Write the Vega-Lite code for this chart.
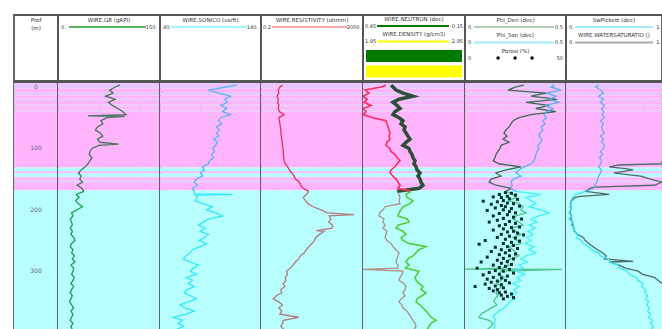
{
  "$schema": "https://vega.github.io/schema/vega-lite/v6.json",
  "padding": {"left": 13, "top": 14, "right": 0, "bottom": 0},
  "background": "white",
  "spacing": 0,
  "resolve": {"scale": {"color": "independent"}},
  "config": {
    "view": {"stroke": "#555555", "strokeWidth": 1.8},
    "axis": {"labels": false, "ticks": false, "domain": false, "grid": true, "gridColor": "#3f6f6f", "gridOpacity": 0.3, "gridWidth": 1, "zindex": 1},
    "text": {"font": "DejaVu Sans"}
  },
  "datasets": {
    "zones": [
      {"top": -6.5, "bottom": 3, "zone": "Shaly"},
      {"top": 3, "bottom": 8, "zone": "Shale"},
      {"top": 8, "bottom": 14, "zone": "Shaly"},
      {"top": 14, "bottom": 19, "zone": "Shale"},
      {"top": 19, "bottom": 23, "zone": "Shaly"},
      {"top": 23, "bottom": 29, "zone": "Shale"},
      {"top": 29, "bottom": 32, "zone": "Shaly"},
      {"top": 32, "bottom": 37, "zone": "Shale"},
      {"top": 37, "bottom": 40, "zone": "Shaly"},
      {"top": 40, "bottom": 131, "zone": "Shale"},
      {"top": 131, "bottom": 137, "zone": "Sand"},
      {"top": 137, "bottom": 141, "zone": "Shaly"},
      {"top": 141, "bottom": 147, "zone": "Sand"},
      {"top": 147, "bottom": 152, "zone": "Shale"},
      {"top": 152, "bottom": 156, "zone": "Shaly"},
      {"top": 156, "bottom": 168, "zone": "Shale"},
      {"top": 168, "bottom": 399, "zone": "Sand"}
    ],
    "depthLabels": [{"d": 0}, {"d": 100}, {"d": 200}, {"d": 300}, {"d": 400}],
    "hdr": [
      {"track": "D", "slot": 0, "title": "Prof"},
      {"track": "D", "slot": 0.5, "title": "(m)"},
      {"track": "GR", "slot": 0, "title": "WIRE.GR (gAPI)", "lo": "0.", "hi": "150."},
      {"track": "DT", "slot": 0, "title": "WIRE.SONICO (us/ft)", "lo": "40.", "hi": "140."},
      {"track": "RES", "slot": 0, "title": "WIRE.RESISTIVITY (ohmm)", "lo": "0.2", "hi": "2000."},
      {"track": "ND", "slot": 0, "title": "WIRE.NEUTRON (dec)", "lo": "0.45", "hi": "-0.15"},
      {"track": "ND", "slot": 1, "title": "WIRE.DENSITY (g/cm3)", "lo": "1.95", "hi": "2.95"},
      {"track": "ND", "slot": 2, "box": "Separation"},
      {"track": "ND", "slot": 3, "box": "Crossover"},
      {"track": "POR", "slot": 0, "title": "Phi_Den (dec)", "lo": "0.", "hi": "0.5"},
      {"track": "POR", "slot": 1, "title": "Phi_Son (dec)", "lo": "0.", "hi": "0.5"},
      {"track": "POR", "slot": 2, "title": "Porosi (%)", "lo": "0", "hi": "50", "sym": "dots"},
      {"track": "SW", "slot": 0, "title": "SwPickett (dec)", "lo": "0.", "hi": "1."},
      {"track": "SW", "slot": 1, "title": "WIRE.WATERSATURATIO ()", "lo": "0.", "hi": "1."}
    ],
    "logs": [
      {"d": -3, "gr": 91, "dt": 116, "res": 1.4, "nphi": 0.315, "rhob": 2.225, "phid": 0.292, "phis": 0.441, "swp": 0.34},
      {"d": 0, "gr": 84, "dt": 105, "res": 1.1, "nphi": 0.344, "rhob": 2.244, "phid": 0.252, "phis": 0.426, "swp": 0.31},
      {"d": 5, "gr": 76, "dt": 88, "res": 0.95, "nphi": 0.438, "rhob": 2.274, "phid": 0.213, "phis": 0.475, "swp": 0.36},
      {"d": 10, "gr": 81, "dt": 98, "res": 1.0, "nphi": 0.415, "rhob": 2.342, "phid": 0.401, "phis": 0.401, "swp": 0.39},
      {"d": 15, "gr": 70, "dt": 110, "res": 0.85, "nphi": 0.45, "rhob": 2.44, "phid": 0.327, "phis": 0.45, "swp": 0.34},
      {"d": 20, "gr": 84, "dt": 104, "res": 0.95, "nphi": 0.426, "rhob": 2.303, "phid": 0.455, "phis": 0.416, "swp": 0.39},
      {"d": 25, "gr": 74, "dt": 107, "res": 0.9, "nphi": 0.444, "rhob": 2.244, "phid": 0.302, "phis": 0.465, "swp": 0.36},
      {"d": 30, "gr": 80, "dt": 100, "res": 1.0, "nphi": 0.403, "rhob": 2.283, "phid": 0.416, "phis": 0.396, "swp": 0.40},
      {"d": 35, "gr": 88, "dt": 106, "res": 0.95, "nphi": 0.45, "rhob": 2.313, "phid": 0.351, "phis": 0.436, "swp": 0.37},
      {"d": 40, "gr": 95, "dt": 102, "res": 1.05, "nphi": 0.432, "rhob": 2.264, "phid": 0.45, "phis": 0.406, "swp": 0.39},
      {"d": 45, "gr": 100, "dt": 110, "res": 1.6, "nphi": 0.45, "rhob": 2.244, "phid": 0.327, "phis": 0.391, "swp": 0.38},
      {"d": 47, "gr": 44},
      {"d": 48, "gr": 98},
      {"d": 50, "gr": 72, "dt": 100, "res": 1.0, "nphi": 0.391, "rhob": 2.303, "phid": 0.267, "phis": 0.401, "swp": 0.40},
      {"d": 55, "gr": 63, "dt": 98, "res": 1.05, "nphi": 0.315, "rhob": 2.342, "phid": 0.238, "phis": 0.386, "swp": 0.36},
      {"d": 60, "gr": 66, "dt": 101, "res": 1.1, "nphi": 0.309, "rhob": 2.323, "phid": 0.228, "phis": 0.396, "swp": 0.39},
      {"d": 65, "gr": 58, "dt": 96, "res": 1.15, "nphi": 0.303, "rhob": 2.362, "phid": 0.218, "phis": 0.376, "swp": 0.37},
      {"d": 70, "gr": 55, "dt": 99, "res": 1.2, "nphi": 0.297, "rhob": 2.352, "phid": 0.203, "phis": 0.386, "swp": 0.38},
      {"d": 75, "gr": 62, "dt": 96, "res": 1.2, "nphi": 0.291, "rhob": 2.372, "phid": 0.193, "phis": 0.371, "swp": 0.40},
      {"d": 80, "gr": 66, "dt": 98, "res": 1.25, "nphi": 0.297, "rhob": 2.391, "phid": 0.208, "phis": 0.366, "swp": 0.36},
      {"d": 85, "gr": 58, "dt": 93, "res": 1.3, "nphi": 0.291, "rhob": 2.411, "phid": 0.188, "phis": 0.381, "swp": 0.39},
      {"d": 90, "gr": 62, "dt": 97, "res": 1.35, "nphi": 0.309, "rhob": 2.372, "phid": 0.218, "phis": 0.376, "swp": 0.37},
      {"d": 93, "gr": 89},
      {"d": 95, "gr": 60, "dt": 95, "res": 1.4, "nphi": 0.315, "rhob": 2.342, "phid": 0.178, "phis": 0.361, "swp": 0.40},
      {"d": 100, "gr": 50, "dt": 92, "res": 1.45, "nphi": 0.291, "rhob": 2.401, "phid": 0.173, "phis": 0.366, "swp": 0.39},
      {"d": 105, "gr": 47, "dt": 94, "res": 1.5, "nphi": 0.285, "rhob": 2.411, "phid": 0.163, "phis": 0.356, "swp": 0.36},
      {"d": 110, "gr": 46, "dt": 91, "res": 1.5, "nphi": 0.262, "rhob": 2.431, "phid": 0.153, "phis": 0.351, "swp": 0.38},
      {"d": 115, "gr": 50, "dt": 93, "res": 1.55, "nphi": 0.25, "rhob": 2.44, "phid": 0.149, "phis": 0.347, "swp": 0.35},
      {"d": 120, "gr": 47, "dt": 89, "res": 1.6, "nphi": 0.232, "rhob": 2.46, "phid": 0.139, "phis": 0.342, "swp": 0.37, "sw": 1.0},
      {"d": 125, "gr": 44, "dt": 88, "res": 1.8, "nphi": 0.25, "rhob": 2.45, "phid": 0.168, "phis": 0.327, "swp": 0.36, "sw": 1.0},
      {"d": 127, "sw": 0.55},
      {"d": 130, "gr": 40, "dt": 82, "res": 2.2, "nphi": 0.262, "rhob": 2.47, "phid": 0.277, "phis": 0.292, "swp": 0.34, "sw": 0.45},
      {"d": 133, "sw": 0.62},
      {"d": 135, "gr": 34, "dt": 84, "res": 2.6, "nphi": 0.285, "rhob": 2.479, "phid": 0.203, "phis": 0.267, "swp": 0.37, "sw": 0.7},
      {"d": 138, "sw": 0.58},
      {"d": 140, "gr": 30, "dt": 80, "res": 3.2, "nphi": 0.291, "rhob": 2.509, "phid": 0.153, "phis": 0.252, "swp": 0.36, "sw": 0.5},
      {"d": 143, "sw": 0.66},
      {"d": 145, "gr": 34, "dt": 82, "res": 4.0, "nphi": 0.274, "rhob": 2.489, "phid": 0.178, "phis": 0.277, "swp": 0.34, "sw": 0.78},
      {"d": 150, "gr": 32, "dt": 76, "res": 4.5, "nphi": 0.256, "rhob": 2.509, "phid": 0.129, "phis": 0.238, "swp": 0.33, "sw": 0.88},
      {"d": 155, "gr": 36, "dt": 74, "res": 6.5, "nphi": 0.244, "rhob": 2.519, "phid": 0.119, "phis": 0.228, "swp": 0.32, "sw": 1.0},
      {"d": 160, "gr": 28, "dt": 77, "res": 7.0, "nphi": 0.232, "rhob": 2.538, "phid": 0.153, "phis": 0.233, "swp": 0.30, "sw": 0.92},
      {"d": 163, "sw": 0.3},
      {"d": 165, "gr": 35, "dt": 72, "res": 9.0, "nphi": 0.244, "rhob": 2.499, "phid": 0.228, "phis": 0.228, "swp": 0.29, "sw": 0.25},
      {"d": 170, "gr": 38, "dt": 74, "res": 15, "nphi": 0.168, "rhob": 2.283, "phid": 0.203, "phis": 0.252, "swp": 0.20, "sw": 0.2},
      {"d": 174, "dt": 74},
      {"d": 175, "gr": 27, "dt": 112, "res": 12, "nphi": 0.197, "rhob": 2.303, "phid": 0.238, "phis": 0.376, "swp": 0.10, "sw": 0.45},
      {"d": 176, "dt": 75},
      {"d": 178, "sw": 0.15},
      {"d": 180, "gr": 31, "dt": 77, "res": 9, "nphi": 0.191, "rhob": 2.313, "phid": 0.252, "phis": 0.302, "swp": 0.07, "sw": 0.09},
      {"d": 185, "gr": 26, "dt": 75, "res": 11, "nphi": 0.156, "rhob": 2.303, "phid": 0.218, "phis": 0.327, "swp": 0.05, "sw": 0.06},
      {"d": 190, "gr": 30, "dt": 82, "res": 14, "nphi": 0.174, "rhob": 2.313, "phid": 0.267, "phis": 0.351, "swp": 0.06, "sw": 0.05},
      {"d": 195, "gr": 36, "dt": 92, "res": 22, "nphi": 0.215, "rhob": 2.166, "phid": 0.287, "phis": 0.317, "swp": 0.04, "sw": 0.05},
      {"d": 200, "gr": 28, "dt": 86, "res": 45, "nphi": 0.226, "rhob": 2.146, "phid": 0.277, "phis": 0.376, "swp": 0.05, "sw": 0.05},
      {"d": 205, "gr": 20, "dt": 95, "res": 80, "nphi": 0.238, "rhob": 2.117, "phid": 0.302, "phis": 0.416, "swp": 0.03, "sw": 0.04},
      {"d": 208, "res": 900},
      {"d": 210, "gr": 22, "dt": 102, "res": 95, "nphi": 0.244, "rhob": 2.107, "phid": 0.252, "phis": 0.366, "swp": 0.06, "sw": 0.06},
      {"d": 215, "gr": 18, "dt": 88, "res": 110, "nphi": 0.191, "rhob": 2.156, "phid": 0.238, "phis": 0.327, "swp": 0.03, "sw": 0.05},
      {"d": 220, "gr": 20, "dt": 83, "res": 90, "nphi": 0.179, "rhob": 2.146, "phid": 0.267, "phis": 0.356, "swp": 0.07, "sw": 0.07},
      {"d": 225, "gr": 21, "dt": 78, "res": 130, "nphi": 0.244, "rhob": 2.166, "phid": 0.287, "phis": 0.317, "swp": 0.05, "sw": 0.07},
      {"d": 230, "gr": 18, "dt": 85, "res": 120, "nphi": 0.256, "rhob": 2.146, "phid": 0.228, "phis": 0.347, "swp": 0.09, "sw": 0.08},
      {"d": 234, "res": 30},
      {"d": 235, "gr": 21, "dt": 80, "res": 60, "nphi": 0.215, "rhob": 2.185, "phid": 0.252, "phis": 0.312, "swp": 0.08, "sw": 0.09},
      {"d": 240, "gr": 19, "dt": 88, "res": 40, "nphi": 0.197, "rhob": 2.175, "phid": 0.277, "phis": 0.337, "swp": 0.13, "sw": 0.12},
      {"d": 245, "gr": 23, "dt": 84, "res": 28, "nphi": 0.226, "rhob": 2.166, "phid": 0.238, "phis": 0.307, "swp": 0.11, "sw": 0.18},
      {"d": 250, "gr": 25, "dt": 79, "res": 25, "nphi": 0.215, "rhob": 2.185, "phid": 0.257, "phis": 0.327, "swp": 0.16, "sw": 0.2},
      {"d": 255, "gr": 20, "dt": 86, "res": 20, "nphi": 0.179, "rhob": 2.225, "phid": 0.277, "phis": 0.297, "swp": 0.18, "sw": 0.24},
      {"d": 260, "gr": 18, "dt": 80, "res": 15, "nphi": 0.079, "rhob": 2.244, "phid": 0.218, "phis": 0.342, "swp": 0.24, "sw": 0.28},
      {"d": 265, "gr": 22, "dt": 72, "res": 12, "nphi": 0.121, "rhob": 2.274, "phid": 0.238, "phis": 0.317, "swp": 0.26, "sw": 0.33},
      {"d": 270, "gr": 20, "dt": 70, "res": 10, "nphi": 0.138, "rhob": 2.303, "phid": 0.252, "phis": 0.351, "swp": 0.34, "sw": 0.38},
      {"d": 275, "gr": 24, "dt": 66, "res": 7, "nphi": 0.156, "rhob": 2.293, "phid": 0.267, "phis": 0.302, "swp": 0.36, "sw": 0.42},
      {"d": 280, "gr": 21, "dt": 63, "res": 6, "nphi": 0.185, "rhob": 2.283, "phid": 0.228, "phis": 0.277, "swp": 0.44, "sw": 0.4},
      {"d": 284, "sw": 0.7},
      {"d": 285, "gr": 25, "dt": 70, "res": 4.5, "nphi": 0.197, "rhob": 2.274, "phid": 0.203, "phis": 0.307, "swp": 0.46, "sw": 0.45},
      {"d": 290, "gr": 19, "dt": 78, "res": 3.6, "nphi": 0.179, "rhob": 2.293, "phid": 0.218, "phis": 0.267, "swp": 0.54, "sw": 0.55},
      {"d": 295, "gr": 23, "dt": 73, "res": 2.8, "nphi": 0.2, "rhob": 2.29, "phid": 0.188, "phis": 0.287, "swp": 0.56, "sw": 0.62},
      {"d": 296.5, "phid": 0.0},
      {"d": 297, "rhob": 1.95, "phid": 0.48},
      {"d": 300, "gr": 22, "dt": 70, "res": 2.0, "nphi": 0.121, "rhob": 2.342, "phid": 0.178, "phis": 0.252, "swp": 0.64, "sw": 0.75},
      {"d": 305, "gr": 20, "dt": 76, "res": 2.2, "nphi": 0.132, "rhob": 2.332, "phid": 0.168, "phis": 0.297, "swp": 0.66, "sw": 0.8},
      {"d": 310, "gr": 24, "dt": 66, "res": 1.8, "nphi": 0.144, "rhob": 2.313, "phid": 0.193, "phis": 0.257, "swp": 0.73, "sw": 0.92},
      {"d": 315, "gr": 22, "dt": 72, "res": 1.9, "nphi": 0.138, "rhob": 2.303, "phid": 0.178, "phis": 0.277, "swp": 0.75, "sw": 0.96},
      {"d": 320, "gr": 19, "dt": 68, "res": 1.5, "nphi": 0.121, "rhob": 2.352, "phid": 0.158, "phis": 0.238, "swp": 0.80, "sw": 1.0},
      {"d": 325, "gr": 23, "dt": 74, "res": 1.7, "nphi": 0.097, "rhob": 2.372, "phid": 0.178, "phis": 0.267, "swp": 0.79},
      {"d": 330, "gr": 20, "dt": 67, "res": 1.2, "nphi": 0.109, "rhob": 2.362, "phid": 0.168, "phis": 0.243, "swp": 0.83},
      {"d": 335, "gr": 18, "dt": 64, "res": 1.3, "nphi": 0.079, "rhob": 2.342, "phid": 0.153, "phis": 0.257, "swp": 0.82},
      {"d": 340, "gr": 21, "dt": 70, "res": 0.8, "nphi": 0.103, "rhob": 2.362, "phid": 0.163, "phis": 0.228, "swp": 0.85},
      {"d": 345, "gr": 19, "dt": 76, "res": 0.6, "nphi": 0.132, "rhob": 2.323, "phid": 0.149, "phis": 0.248, "swp": 0.83},
      {"d": 350, "gr": 17, "dt": 68, "res": 1.0, "nphi": 0.138, "rhob": 2.303, "phid": 0.144, "phis": 0.218, "swp": 0.86},
      {"d": 355, "gr": 20, "dt": 60, "res": 1.4, "nphi": 0.115, "rhob": 2.332, "phid": 0.158, "phis": 0.208, "swp": 0.84},
      {"d": 360, "gr": 23, "dt": 65, "res": 1.0, "nphi": 0.097, "rhob": 2.342, "phid": 0.129, "phis": 0.193, "swp": 0.87},
      {"d": 365, "gr": 19, "dt": 74, "res": 1.3, "nphi": 0.079, "rhob": 2.381, "phid": 0.104, "phis": 0.168, "swp": 0.85},
      {"d": 370, "gr": 22, "dt": 66, "res": 1.1, "nphi": 0.062, "rhob": 2.401, "phid": 0.079, "phis": 0.149, "swp": 0.88},
      {"d": 375, "gr": 20, "dt": 53, "res": 6.0, "nphi": 0.05, "rhob": 2.421, "phid": 0.069, "phis": 0.139, "swp": 0.86},
      {"d": 380, "gr": 18, "dt": 62, "res": 1.5, "nphi": 0.021, "rhob": 2.44, "phid": 0.119, "phis": 0.153, "swp": 0.90},
      {"d": 385, "gr": 22, "dt": 58, "res": 1.4, "nphi": 0.05, "rhob": 2.46, "phid": 0.139, "phis": 0.144, "swp": 0.88},
      {"d": 390, "gr": 19, "dt": 63, "res": 1.2, "nphi": 0.062, "rhob": 2.47, "phid": 0.129, "phis": 0.149, "swp": 0.91},
      {"d": 395, "gr": 21, "dt": 56, "res": 1.6, "nphi": 0.074, "rhob": 2.45, "phid": 0.109, "phis": 0.139, "swp": 0.89},
      {"d": 400, "gr": 20, "dt": 60, "res": 1.3, "nphi": 0.068, "rhob": 2.46, "phid": 0.119, "phis": 0.144, "swp": 0.90}
    ],
    "por": [
      {"d": 172, "p": 20}, {"d": 173, "p": 23}, {"d": 175, "p": 17}, {"d": 176, "p": 25}, {"d": 178, "p": 21},
      {"d": 179, "p": 14}, {"d": 180, "p": 18}, {"d": 182, "p": 22}, {"d": 183, "p": 26}, {"d": 185, "p": 19},
      {"d": 186, "p": 9}, {"d": 187, "p": 16}, {"d": 189, "p": 21}, {"d": 190, "p": 24}, {"d": 191, "p": 13},
      {"d": 193, "p": 18}, {"d": 194, "p": 27}, {"d": 195, "p": 20}, {"d": 197, "p": 15}, {"d": 198, "p": 23},
      {"d": 200, "p": 19}, {"d": 201, "p": 11}, {"d": 203, "p": 22}, {"d": 205, "p": 25}, {"d": 206, "p": 17},
      {"d": 208, "p": 21}, {"d": 210, "p": 14}, {"d": 212, "p": 24}, {"d": 214, "p": 19}, {"d": 215, "p": 28},
      {"d": 217, "p": 16}, {"d": 219, "p": 22}, {"d": 220, "p": 12}, {"d": 222, "p": 25}, {"d": 224, "p": 20},
      {"d": 226, "p": 17}, {"d": 228, "p": 27}, {"d": 229, "p": 23}, {"d": 231, "p": 19}, {"d": 233, "p": 14},
      {"d": 235, "p": 24}, {"d": 236, "p": 21}, {"d": 238, "p": 26}, {"d": 240, "p": 18}, {"d": 241, "p": 29},
      {"d": 243, "p": 22}, {"d": 245, "p": 16}, {"d": 246, "p": 25}, {"d": 248, "p": 20}, {"d": 250, "p": 10},
      {"d": 251, "p": 27}, {"d": 253, "p": 23}, {"d": 255, "p": 19}, {"d": 256, "p": 7}, {"d": 258, "p": 24},
      {"d": 260, "p": 21}, {"d": 261, "p": 15}, {"d": 263, "p": 26}, {"d": 265, "p": 18}, {"d": 266, "p": 22},
      {"d": 268, "p": 13}, {"d": 270, "p": 20}, {"d": 272, "p": 25}, {"d": 273, "p": 17}, {"d": 275, "p": 22},
      {"d": 277, "p": 11}, {"d": 279, "p": 19}, {"d": 280, "p": 24}, {"d": 282, "p": 16}, {"d": 284, "p": 21},
      {"d": 285, "p": 8}, {"d": 287, "p": 18}, {"d": 289, "p": 23}, {"d": 290, "p": 14}, {"d": 292, "p": 20},
      {"d": 294, "p": 17}, {"d": 295, "p": 6}, {"d": 297, "p": 22}, {"d": 299, "p": 15}, {"d": 300, "p": 19},
      {"d": 302, "p": 12}, {"d": 303, "p": 24}, {"d": 305, "p": 17}, {"d": 306, "p": 9}, {"d": 308, "p": 21},
      {"d": 310, "p": 14}, {"d": 311, "p": 18}, {"d": 313, "p": 11}, {"d": 315, "p": 20}, {"d": 316, "p": 16},
      {"d": 318, "p": 13}, {"d": 319, "p": 22}, {"d": 321, "p": 10}, {"d": 322, "p": 18}, {"d": 324, "p": 15},
      {"d": 325, "p": 5}, {"d": 327, "p": 19}, {"d": 328, "p": 12}, {"d": 330, "p": 16}, {"d": 332, "p": 14},
      {"d": 334, "p": 20}, {"d": 335, "p": 17}, {"d": 337, "p": 23}, {"d": 339, "p": 18}, {"d": 341, "p": 21},
      {"d": 343, "p": 24}, {"d": 345, "p": 19}
    ]
  },
  "vconcat": [
    {
      "spacing": 0, "bounds": "flush",
      "resolve": {"scale": {"color": "independent"}},
      "hconcat": [
        {
          "width": 44, "height": 66,
          "data": {"name": "hdr"},
          "transform": [{"filter": "datum.track === 'D'"}],
          "mark": {"type": "text", "fontSize": 5.5, "yOffset": 5, "color": "#333333"},
          "encoding": {
            "y": {"field": "slot", "type": "quantitative", "scale": {"domain": [0, 4.26], "reverse": true, "nice": false, "zero": false}, "axis": null},
            "x": {"datum": 0.5, "type": "quantitative", "scale": {"domain": [0, 1], "nice": false, "zero": false}, "axis": null},
            "text": {"field": "title"}
          }
        },
        {
          "width": 102, "height": 66,
          "data": {"name": "hdr"},
          "transform": [{"filter": "datum.track === 'GR'"}],
          "encoding": {"y": {"field": "slot", "type": "quantitative", "scale": {"domain": [0, 4.26], "reverse": true, "nice": false, "zero": false}, "axis": null}},
          "layer": [
            {"mark": {"type": "text", "fontSize": 5.5, "yOffset": 5, "color": "#333333"},
             "encoding": {"x": {"datum": 0.5, "type": "quantitative", "scale": {"domain": [0, 1], "nice": false, "zero": false}, "axis": null}, "text": {"field": "title"}}},
            {"mark": {"type": "rule", "strokeWidth": 2, "yOffset": 12, "xOffset": 11, "x2Offset": -14},
             "encoding": {"x": {"datum": 0, "type": "quantitative"}, "x2": {"datum": 1}, "color": {"field": "title", "type": "nominal", "scale": {"domain": ["WIRE.GR (gAPI)"], "range": ["#5cb85c"]}, "legend": null}}},
            {"mark": {"type": "text", "fontSize": 5, "yOffset": 12, "xOffset": 3, "align": "left", "color": "#333333"},
             "encoding": {"x": {"datum": 0, "type": "quantitative"}, "text": {"field": "lo"}}},
            {"mark": {"type": "text", "fontSize": 5, "yOffset": 12, "xOffset": -3, "align": "right", "color": "#333333"},
             "encoding": {"x": {"datum": 1, "type": "quantitative"}, "text": {"field": "hi"}}}
          ]
        },
        {
          "width": 101, "height": 66,
          "data": {"name": "hdr"},
          "transform": [{"filter": "datum.track === 'DT'"}],
          "encoding": {"y": {"field": "slot", "type": "quantitative", "scale": {"domain": [0, 4.26], "reverse": true, "nice": false, "zero": false}, "axis": null}},
          "layer": [
            {"mark": {"type": "text", "fontSize": 5.5, "yOffset": 5, "color": "#333333"},
             "encoding": {"x": {"datum": 0.5, "type": "quantitative", "scale": {"domain": [0, 1], "nice": false, "zero": false}, "axis": null}, "text": {"field": "title"}}},
            {"mark": {"type": "rule", "strokeWidth": 2, "yOffset": 12, "xOffset": 11, "x2Offset": -14},
             "encoding": {"x": {"datum": 0, "type": "quantitative"}, "x2": {"datum": 1}, "color": {"field": "title", "type": "nominal", "scale": {"domain": ["WIRE.SONICO (us/ft)"], "range": ["#a6f2ff"]}, "legend": null}}},
            {"mark": {"type": "text", "fontSize": 5, "yOffset": 12, "xOffset": 3, "align": "left", "color": "#333333"},
             "encoding": {"x": {"datum": 0, "type": "quantitative"}, "text": {"field": "lo"}}},
            {"mark": {"type": "text", "fontSize": 5, "yOffset": 12, "xOffset": -3, "align": "right", "color": "#333333"},
             "encoding": {"x": {"datum": 1, "type": "quantitative"}, "text": {"field": "hi"}}}
          ]
        },
        {
          "width": 102, "height": 66,
          "data": {"name": "hdr"},
          "transform": [{"filter": "datum.track === 'RES'"}],
          "encoding": {"y": {"field": "slot", "type": "quantitative", "scale": {"domain": [0, 4.26], "reverse": true, "nice": false, "zero": false}, "axis": null}},
          "layer": [
            {"mark": {"type": "text", "fontSize": 5.5, "yOffset": 5, "color": "#333333"},
             "encoding": {"x": {"datum": 0.5, "type": "quantitative", "scale": {"domain": [0, 1], "nice": false, "zero": false}, "axis": null}, "text": {"field": "title"}}},
            {"mark": {"type": "rule", "strokeWidth": 2, "yOffset": 12, "xOffset": 11, "x2Offset": -16},
             "encoding": {"x": {"datum": 0, "type": "quantitative"}, "x2": {"datum": 1}, "color": {"field": "title", "type": "nominal", "scale": {"domain": ["WIRE.RESISTIVITY (ohmm)"], "range": ["#ffaaaa"]}, "legend": null}}},
            {"mark": {"type": "text", "fontSize": 5, "yOffset": 12, "xOffset": 2, "align": "left", "color": "#333333"},
             "encoding": {"x": {"datum": 0, "type": "quantitative"}, "text": {"field": "lo"}}},
            {"mark": {"type": "text", "fontSize": 5, "yOffset": 12, "xOffset": -2, "align": "right", "color": "#333333"},
             "encoding": {"x": {"datum": 1, "type": "quantitative"}, "text": {"field": "hi"}}}
          ]
        },
        {
          "width": 102, "height": 66,
          "data": {"name": "hdr"},
          "transform": [{"filter": "datum.track === 'ND'"}],
          "encoding": {"y": {"field": "slot", "type": "quantitative", "scale": {"domain": [0, 4.26], "reverse": true, "nice": false, "zero": false}, "axis": null}},
          "layer": [
            {"transform": [{"filter": "datum.box != null"}],
             "mark": {"type": "rect", "yOffset": 4, "y2Offset": 16, "xOffset": 3, "x2Offset": -3},
             "encoding": {"x": {"datum": 0, "type": "quantitative", "scale": {"domain": [0, 1], "nice": false, "zero": false}, "axis": null}, "x2": {"datum": 1}, "y2": {"field": "slot"}, "color": {"field": "box", "type": "nominal", "scale": {"domain": ["Separation", "Crossover"], "range": ["#007a00", "#ffff00"]}, "legend": null}}},
            {"transform": [{"filter": "datum.title != null"}],
             "mark": {"type": "text", "fontSize": 5.5, "yOffset": 4, "color": "#333333"},
             "encoding": {"x": {"datum": 0.5, "type": "quantitative"}, "text": {"field": "title"}}},
            {"transform": [{"filter": "datum.title != null"}],
             "mark": {"type": "rule", "strokeWidth": 2, "yOffset": 11, "xOffset": 14, "x2Offset": -16},
             "encoding": {"x": {"datum": 0, "type": "quantitative"}, "x2": {"datum": 1}, "color": {"field": "title", "type": "nominal", "scale": {"domain": ["WIRE.NEUTRON (dec)", "WIRE.DENSITY (g/cm3)"], "range": ["#bfe0bf", "#ffb0b0"]}, "legend": null}}},
            {"transform": [{"filter": "datum.lo != null"}],
             "mark": {"type": "text", "fontSize": 5, "yOffset": 11, "xOffset": 2, "align": "left", "color": "#333333"},
             "encoding": {"x": {"datum": 0, "type": "quantitative"}, "text": {"field": "lo"}}},
            {"transform": [{"filter": "datum.hi != null"}],
             "mark": {"type": "text", "fontSize": 5, "yOffset": 11, "xOffset": -2, "align": "right", "color": "#333333"},
             "encoding": {"x": {"datum": 1, "type": "quantitative"}, "text": {"field": "hi"}}}
          ]
        },
        {
          "width": 101, "height": 66,
          "data": {"name": "hdr"},
          "transform": [{"filter": "datum.track === 'POR'"}],
          "encoding": {"y": {"field": "slot", "type": "quantitative", "scale": {"domain": [0, 4.26], "reverse": true, "nice": false, "zero": false}, "axis": null}},
          "layer": [
            {"mark": {"type": "text", "fontSize": 5.5, "yOffset": 5, "color": "#333333"},
             "encoding": {"x": {"datum": 0.5, "type": "quantitative", "scale": {"domain": [0, 1], "nice": false, "zero": false}, "axis": null}, "text": {"field": "title"}}},
            {"transform": [{"filter": "datum.sym == null"}],
             "mark": {"type": "rule", "strokeWidth": 2, "yOffset": 12, "xOffset": 9, "x2Offset": -12},
             "encoding": {"x": {"datum": 0, "type": "quantitative"}, "x2": {"datum": 1}, "color": {"field": "title", "type": "nominal", "scale": {"domain": ["Phi_Den (dec)", "Phi_Son (dec)"], "range": ["#b0d0b0", "#a0eefa"]}, "legend": null}}},
            {"transform": [{"filter": "datum.sym === 'dots'"}],
             "mark": {"type": "rule", "strokeWidth": 3.5, "strokeCap": "round", "strokeDash": [0.1, 16.9], "color": "#111111", "yOffset": 12},
             "encoding": {"x": {"datum": 0.327, "type": "quantitative"}, "x2": {"datum": 0.68}}},
            {"mark": {"type": "text", "fontSize": 5, "yOffset": 12, "xOffset": 3, "align": "left", "color": "#333333"},
             "encoding": {"x": {"datum": 0, "type": "quantitative"}, "text": {"field": "lo"}}},
            {"mark": {"type": "text", "fontSize": 5, "yOffset": 12, "xOffset": -3, "align": "right", "color": "#333333"},
             "encoding": {"x": {"datum": 1, "type": "quantitative"}, "text": {"field": "hi"}}}
          ]
        },
        {
          "width": 96, "height": 66,
          "data": {"name": "hdr"},
          "transform": [{"filter": "datum.track === 'SW'"}],
          "encoding": {"y": {"field": "slot", "type": "quantitative", "scale": {"domain": [0, 4.26], "reverse": true, "nice": false, "zero": false}, "axis": null}},
          "layer": [
            {"mark": {"type": "text", "fontSize": 5.5, "yOffset": 5, "color": "#333333"},
             "encoding": {"x": {"datum": 0.5, "type": "quantitative", "scale": {"domain": [0, 1], "nice": false, "zero": false}, "axis": null}, "text": {"field": "title"}}},
            {"mark": {"type": "rule", "strokeWidth": 2, "yOffset": 12, "xOffset": 9, "x2Offset": -9},
             "encoding": {"x": {"datum": 0, "type": "quantitative"}, "x2": {"datum": 1}, "color": {"field": "title", "type": "nominal", "scale": {"domain": ["SwPickett (dec)", "WIRE.WATERSATURATIO ()"], "range": ["#a0eefa", "#aaaaaa"]}, "legend": null}}},
            {"mark": {"type": "text", "fontSize": 5, "yOffset": 12, "xOffset": 3, "align": "left", "color": "#333333"},
             "encoding": {"x": {"datum": 0, "type": "quantitative"}, "text": {"field": "lo"}}},
            {"mark": {"type": "text", "fontSize": 5, "yOffset": 12, "xOffset": -1, "align": "right", "color": "#333333"},
             "encoding": {"x": {"datum": 1, "type": "quantitative"}, "text": {"field": "hi"}}}
          ]
        }
      ]
    },
    {
      "spacing": 0, "bounds": "flush",
      "resolve": {"scale": {"color": "independent"}},
      "hconcat": [
        {
          "width": 44, "height": 249,
          "layer": [
            {"data": {"name": "zones"}, "mark": {"type": "rect"},
             "encoding": {
               "y": {"field": "top", "type": "quantitative", "title": null,
                     "scale": {"domain": [-6.5, 399], "reverse": true, "nice": false, "zero": false},
                     "axis": {"values": [0,25,50,75,100,125,150,175,200,225,250,275,300,325,350,375,400],
                              "gridOpacity": {"condition": {"test": "datum.value % 100 === 0", "value": 0.45}, "value": 0.2}}},
               "y2": {"field": "bottom"},
               "color": {"field": "zone", "type": "nominal", "scale": {"domain": ["Shale", "Shaly", "Sand"], "range": ["#ffb4fc", "#e8c8fc", "#b8fefe"]}, "legend": null}}},
            {"data": {"name": "depthLabels"},
             "mark": {"type": "text", "fontSize": 6, "color": "#6b5a80", "baseline": "middle", "align": "center"},
             "encoding": {"y": {"field": "d", "type": "quantitative", "title": null}, "text": {"field": "d", "type": "quantitative"}}}
          ]
        },
        {
          "width": 102, "height": 249,
          "layer": [
            {"data": {"name": "zones"}, "mark": {"type": "rect"},
             "encoding": {
               "y": {"field": "top", "type": "quantitative", "title": null, "scale": {"domain": [-6.5, 399], "reverse": true, "nice": false, "zero": false},
                     "axis": {"values": [0,25,50,75,100,125,150,175,200,225,250,275,300,325,350,375,400], "gridOpacity": {"condition": {"test": "datum.value % 100 === 0", "value": 0.5}, "value": 0.25}}},
               "y2": {"field": "bottom"},
               "color": {"field": "zone", "type": "nominal", "scale": {"domain": ["Shale", "Shaly", "Sand"], "range": ["#ffb4fc", "#e8c8fc", "#b8fefe"]}, "legend": null}}},
            {"data": {"name": "logs"}, "transform": [{"filter": "datum.d <= 170"}],
             "mark": {"type": "line", "color": "#45755a", "strokeWidth": 1.3, "invalid": "filter", "clip": true},
             "encoding": {"x": {"field": "gr", "type": "quantitative", "title": null, "scale": {"domain": [0, 150], "nice": false, "zero": false}, "axis": {"values": [0, 30, 60, 90, 120, 150]}},
                          "y": {"field": "d", "type": "quantitative", "title": null}, "order": {"field": "d", "type": "quantitative"}}},
            {"data": {"name": "logs"}, "transform": [{"filter": "datum.d >= 170"}],
             "mark": {"type": "line", "color": "#16a04a", "strokeWidth": 1.3, "invalid": "filter", "clip": true},
             "encoding": {"x": {"field": "gr", "type": "quantitative", "title": null},
                          "y": {"field": "d", "type": "quantitative", "title": null}, "order": {"field": "d", "type": "quantitative"}}}
          ]
        },
        {
          "width": 101, "height": 249,
          "layer": [
            {"data": {"name": "zones"}, "mark": {"type": "rect"},
             "encoding": {
               "y": {"field": "top", "type": "quantitative", "title": null, "scale": {"domain": [-6.5, 399], "reverse": true, "nice": false, "zero": false},
                     "axis": {"values": [0,25,50,75,100,125,150,175,200,225,250,275,300,325,350,375,400], "gridOpacity": {"condition": {"test": "datum.value % 100 === 0", "value": 0.5}, "value": 0.25}}},
               "y2": {"field": "bottom"},
               "color": {"field": "zone", "type": "nominal", "scale": {"domain": ["Shale", "Shaly", "Sand"], "range": ["#ffb4fc", "#e8c8fc", "#b8fefe"]}, "legend": null}}},
            {"data": {"name": "logs"}, "transform": [{"filter": "datum.d <= 170"}],
             "mark": {"type": "line", "color": "#5ab4f2", "strokeWidth": 1.3, "invalid": "filter", "clip": true},
             "encoding": {"x": {"field": "dt", "type": "quantitative", "title": null, "scale": {"domain": [40, 140], "nice": false, "zero": false}, "axis": {"values": [40, 60, 80, 100, 120, 140]}},
                          "y": {"field": "d", "type": "quantitative", "title": null}, "order": {"field": "d", "type": "quantitative"}}},
            {"data": {"name": "logs"}, "transform": [{"filter": "datum.d >= 170"}],
             "mark": {"type": "line", "color": "#2ee8f8", "strokeWidth": 1.3, "invalid": "filter", "clip": true},
             "encoding": {"x": {"field": "dt", "type": "quantitative", "title": null},
                          "y": {"field": "d", "type": "quantitative", "title": null}, "order": {"field": "d", "type": "quantitative"}}}
          ]
        },
        {
          "width": 102, "height": 249,
          "layer": [
            {"data": {"name": "zones"}, "mark": {"type": "rect"},
             "encoding": {
               "y": {"field": "top", "type": "quantitative", "title": null, "scale": {"domain": [-6.5, 399], "reverse": true, "nice": false, "zero": false},
                     "axis": {"values": [0,25,50,75,100,125,150,175,200,225,250,275,300,325,350,375,400], "gridOpacity": {"condition": {"test": "datum.value % 100 === 0", "value": 0.5}, "value": 0.25}}},
               "y2": {"field": "bottom"},
               "color": {"field": "zone", "type": "nominal", "scale": {"domain": ["Shale", "Shaly", "Sand"], "range": ["#ffb4fc", "#e8c8fc", "#b8fefe"]}, "legend": null}}},
            {"data": {"name": "logs"}, "transform": [{"filter": "datum.d <= 170"}],
             "mark": {"type": "line", "color": "#e8305a", "strokeWidth": 1.3, "invalid": "filter", "clip": true},
             "encoding": {"x": {"field": "res", "type": "quantitative", "title": null, "scale": {"type": "log", "domain": [0.2, 2000], "nice": false},
                                "axis": {"values": [0.2,0.3,0.4,0.5,0.6,0.7,0.8,0.9,1,2,3,4,5,6,7,8,9,10,20,30,40,50,60,70,80,90,100,200,300,400,500,600,700,800,900,1000,2000],
                                         "gridOpacity": {"condition": {"test": "datum.value === 1 || datum.value === 10 || datum.value === 100 || datum.value === 1000", "value": 0.45}, "value": 0.18}}},
                          "y": {"field": "d", "type": "quantitative", "title": null}, "order": {"field": "d", "type": "quantitative"}}},
            {"data": {"name": "logs"}, "transform": [{"filter": "datum.d >= 170"}],
             "mark": {"type": "line", "color": "#b27a7a", "strokeWidth": 1.3, "invalid": "filter", "clip": true},
             "encoding": {"x": {"field": "res", "type": "quantitative", "title": null},
                          "y": {"field": "d", "type": "quantitative", "title": null}, "order": {"field": "d", "type": "quantitative"}}}
          ]
        },
        {
          "width": 102, "height": 249,
          "resolve": {"scale": {"x": "independent"}},
          "layer": [
            {"data": {"name": "zones"}, "mark": {"type": "rect"},
             "encoding": {
               "y": {"field": "top", "type": "quantitative", "title": null, "scale": {"domain": [-6.5, 399], "reverse": true, "nice": false, "zero": false},
                     "axis": {"values": [0,25,50,75,100,125,150,175,200,225,250,275,300,325,350,375,400], "gridOpacity": {"condition": {"test": "datum.value % 100 === 0", "value": 0.5}, "value": 0.25}}},
               "y2": {"field": "bottom"},
               "color": {"field": "zone", "type": "nominal", "scale": {"domain": ["Shale", "Shaly", "Sand"], "range": ["#ffb4fc", "#e8c8fc", "#b8fefe"]}, "legend": null}}},
            {"data": {"name": "logs"}, "transform": [{"filter": "datum.d <= 170"}],
             "mark": {"type": "line", "color": "#2d4f38", "strokeWidth": 3.5, "invalid": "filter", "clip": true},
             "encoding": {"x": {"field": "rhob", "type": "quantitative", "title": null, "scale": {"domain": [1.95, 2.95], "nice": false, "zero": false}, "axis": null},
                          "y": {"field": "d", "type": "quantitative", "title": null}, "order": {"field": "d", "type": "quantitative"}}},
            {"data": {"name": "logs"}, "transform": [{"filter": "datum.d <= 170"}],
             "mark": {"type": "line", "color": "#ff2a5a", "strokeWidth": 1.6, "invalid": "filter", "clip": true},
             "encoding": {"x": {"field": "nphi", "type": "quantitative", "title": null, "scale": {"domain": [0.45, -0.15], "nice": false, "zero": false}, "axis": {"values": [0.45, 0.33, 0.21, 0.09, -0.03, -0.15]}},
                          "y": {"field": "d", "type": "quantitative", "title": null}, "order": {"field": "d", "type": "quantitative"}}},
            {"data": {"name": "logs"}, "transform": [{"filter": "datum.d >= 170"}],
             "mark": {"type": "line", "color": "#4fcf3a", "strokeWidth": 1.6, "invalid": "filter", "clip": true},
             "encoding": {"x": {"field": "nphi", "type": "quantitative", "title": null, "scale": {"domain": [0.45, -0.15], "nice": false, "zero": false}, "axis": null},
                          "y": {"field": "d", "type": "quantitative", "title": null}, "order": {"field": "d", "type": "quantitative"}}},
            {"data": {"name": "logs"}, "transform": [{"filter": "datum.d >= 170"}],
             "mark": {"type": "line", "color": "#b08c84", "strokeWidth": 1.3, "invalid": "filter", "clip": true},
             "encoding": {"x": {"field": "rhob", "type": "quantitative", "title": null, "scale": {"domain": [1.95, 2.95], "nice": false, "zero": false}, "axis": null},
                          "y": {"field": "d", "type": "quantitative", "title": null}, "order": {"field": "d", "type": "quantitative"}}}
          ]
        },
        {
          "width": 101, "height": 249,
          "resolve": {"scale": {"x": "independent"}},
          "layer": [
            {"data": {"name": "zones"}, "mark": {"type": "rect"},
             "encoding": {
               "y": {"field": "top", "type": "quantitative", "title": null, "scale": {"domain": [-6.5, 399], "reverse": true, "nice": false, "zero": false},
                     "axis": {"values": [0,25,50,75,100,125,150,175,200,225,250,275,300,325,350,375,400], "gridOpacity": {"condition": {"test": "datum.value % 100 === 0", "value": 0.5}, "value": 0.25}}},
               "y2": {"field": "bottom"},
               "color": {"field": "zone", "type": "nominal", "scale": {"domain": ["Shale", "Shaly", "Sand"], "range": ["#ffb4fc", "#e8c8fc", "#b8fefe"]}, "legend": null}}},
            {"data": {"name": "logs"}, "transform": [{"filter": "datum.d <= 170"}],
             "mark": {"type": "line", "color": "#3d6b52", "strokeWidth": 1.3, "invalid": "filter", "clip": true},
             "encoding": {"x": {"field": "phid", "type": "quantitative", "title": null, "scale": {"domain": [0, 0.5], "nice": false, "zero": false}, "axis": {"values": [0, 0.1, 0.2, 0.3, 0.4, 0.5]}},
                          "y": {"field": "d", "type": "quantitative", "title": null}, "order": {"field": "d", "type": "quantitative"}}},
            {"data": {"name": "logs"}, "transform": [{"filter": "datum.d >= 170"}],
             "mark": {"type": "line", "color": "#4cc38a", "strokeWidth": 1.3, "invalid": "filter", "clip": true},
             "encoding": {"x": {"field": "phid", "type": "quantitative", "title": null, "scale": {"domain": [0, 0.5], "nice": false, "zero": false}, "axis": null},
                          "y": {"field": "d", "type": "quantitative", "title": null}, "order": {"field": "d", "type": "quantitative"}}},
            {"data": {"name": "logs"}, "transform": [{"filter": "datum.d <= 170"}],
             "mark": {"type": "line", "color": "#5aaff0", "strokeWidth": 1.3, "invalid": "filter", "clip": true},
             "encoding": {"x": {"field": "phis", "type": "quantitative", "title": null, "scale": {"domain": [0, 0.5], "nice": false, "zero": false}, "axis": null},
                          "y": {"field": "d", "type": "quantitative", "title": null}, "order": {"field": "d", "type": "quantitative"}}},
            {"data": {"name": "logs"}, "transform": [{"filter": "datum.d >= 170"}],
             "mark": {"type": "line", "color": "#3ff0fa", "strokeWidth": 1.3, "invalid": "filter", "clip": true},
             "encoding": {"x": {"field": "phis", "type": "quantitative", "title": null, "scale": {"domain": [0, 0.5], "nice": false, "zero": false}, "axis": null},
                          "y": {"field": "d", "type": "quantitative", "title": null}, "order": {"field": "d", "type": "quantitative"}}},
            {"data": {"name": "por"},
             "mark": {"type": "point", "shape": "square", "filled": true, "size": 9, "color": "#082e2e", "opacity": 1},
             "encoding": {"x": {"field": "p", "type": "quantitative", "title": null, "scale": {"domain": [0, 50], "nice": false, "zero": false}, "axis": null},
                          "y": {"field": "d", "type": "quantitative", "title": null}}}
          ]
        },
        {
          "width": 96, "height": 249,
          "layer": [
            {"data": {"name": "zones"}, "mark": {"type": "rect"},
             "encoding": {
               "y": {"field": "top", "type": "quantitative", "title": null, "scale": {"domain": [-6.5, 399], "reverse": true, "nice": false, "zero": false},
                     "axis": {"values": [0,25,50,75,100,125,150,175,200,225,250,275,300,325,350,375,400], "gridOpacity": {"condition": {"test": "datum.value % 100 === 0", "value": 0.5}, "value": 0.25}}},
               "y2": {"field": "bottom"},
               "color": {"field": "zone", "type": "nominal", "scale": {"domain": ["Shale", "Shaly", "Sand"], "range": ["#ffb4fc", "#e8c8fc", "#b8fefe"]}, "legend": null}}},
            {"data": {"name": "logs"}, "transform": [{"filter": "datum.d >= 120 && datum.d <= 163"}],
             "mark": {"type": "area", "orient": "horizontal", "color": "#5a2a5a", "opacity": 0.85, "invalid": "filter", "clip": true},
             "encoding": {"x": {"field": "sw", "type": "quantitative", "title": null, "scale": {"domain": [0, 1], "nice": false, "zero": false}, "axis": {"values": [0, 0.2, 0.4, 0.6, 0.8, 1]}},
                          "x2": {"datum": 1},
                          "y": {"field": "d", "type": "quantitative", "title": null}, "order": {"field": "d", "type": "quantitative"}}},
            {"data": {"name": "logs"},
             "mark": {"type": "line", "color": "#4d6b6b", "strokeWidth": 1.3, "invalid": "filter", "clip": true},
             "encoding": {"x": {"field": "sw", "type": "quantitative", "title": null},
                          "y": {"field": "d", "type": "quantitative", "title": null}, "order": {"field": "d", "type": "quantitative"}}},
            {"data": {"name": "logs"}, "transform": [{"filter": "datum.d <= 170"}],
             "mark": {"type": "line", "color": "#5fb2f2", "strokeWidth": 1.3, "invalid": "filter", "clip": true},
             "encoding": {"x": {"field": "swp", "type": "quantitative", "title": null},
                          "y": {"field": "d", "type": "quantitative", "title": null}, "order": {"field": "d", "type": "quantitative"}}},
            {"data": {"name": "logs"}, "transform": [{"filter": "datum.d >= 170"}],
             "mark": {"type": "line", "color": "#36eaf4", "strokeWidth": 1.3, "invalid": "filter", "clip": true},
             "encoding": {"x": {"field": "swp", "type": "quantitative", "title": null},
                          "y": {"field": "d", "type": "quantitative", "title": null}, "order": {"field": "d", "type": "quantitative"}}}
          ]
        }
      ]
    }
  ]
}
